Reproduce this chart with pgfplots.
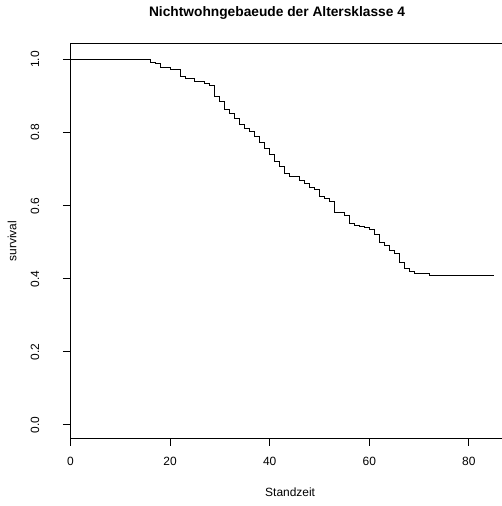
\documentclass[border=0pt]{standalone}
\usepackage{pgfplots}
\pgfplotsset{compat=1.18}
\usepackage{fontspec}
\setmainfont{Liberation Sans}

% Kaplan-Meier estimate: time, survival after the step
\pgfplotstableread{
t    s
0    1.000
16   0.992
17   0.988
18   0.979
20   0.973
22   0.953
23   0.949
25   0.939
27   0.935
28   0.930
29   0.900
30   0.885
31   0.864
32   0.853
33   0.839
34   0.821
35   0.812
36   0.802
37   0.789
38   0.772
39   0.757
40   0.739
41   0.720
42   0.707
43   0.689
44   0.681
46   0.670
47   0.661
48   0.650
49   0.645
50   0.625
51   0.620
52   0.611
53   0.581
55   0.572
56   0.552
57   0.547
58   0.543
59   0.540
60   0.534
61   0.520
62   0.500
63   0.491
64   0.477
65   0.468
66   0.444
67   0.429
68   0.421
69   0.415
72   0.408
85   0.408
}\survtab

\begin{document}
\begin{tikzpicture}
\begin{axis}[
  scale only axis,
  width=431.5bp, height=394bp,
  xmin=0, xmax=86.65,
  ymin=-0.0356, ymax=1.0424,
  axis line style={draw=none},
  xtick={0,20,40,60,80},
  ytick={0,0.2,0.4,0.6,0.8,1},
  xtick pos=bottom, ytick pos=left,
  tick align=outside,
  major tick length=7.5bp,
  tick style={black, line width=1bp},
  /pgf/number format/assume math mode=true,
  ticklabel style={font=\fontsize{12}{14}\selectfont},
  xticklabel style={anchor=center, yshift=-16.2bp},
  yticklabel style={anchor=center, xshift=-28bp, rotate=90},
  yticklabel={\pgfmathprintnumber[fixed, fixed zerofill, precision=1]{\tick}},
  clip=false,
]
\addplot[const plot, black, line width=1bp] table[x=t, y=s] {\survtab};

% frame: left, bottom and top sides
\draw[black, line width=1bp] (rel axis cs:1,1) -- (rel axis cs:0,1) -- (rel axis cs:0,0) -- (rel axis cs:1,0);

\node[font=\fontsize{13.8}{16}\selectfont\bfseries, yshift=31bp]
  at (rel axis cs:0.4786,1) {Nichtwohngebaeude der Altersklasse 4};
\node[font=\fontsize{12}{14}\selectfont, yshift=-54bp]
  at (rel axis cs:0.509,0) {Standzeit};
\node[font=\fontsize{12}{14}\selectfont, xshift=-58.5bp, rotate=90]
  at (rel axis cs:0,0.5) {survival};

\coordinate (bbll) at ([xshift=-70.5bp, yshift=-68bp]rel axis cs:0,0);
\coordinate (bbur) at ([yshift=44bp]rel axis cs:1,1);
\end{axis}
\pgfresetboundingbox
\path (bbll) rectangle (bbur);
\end{tikzpicture}
\end{document}
